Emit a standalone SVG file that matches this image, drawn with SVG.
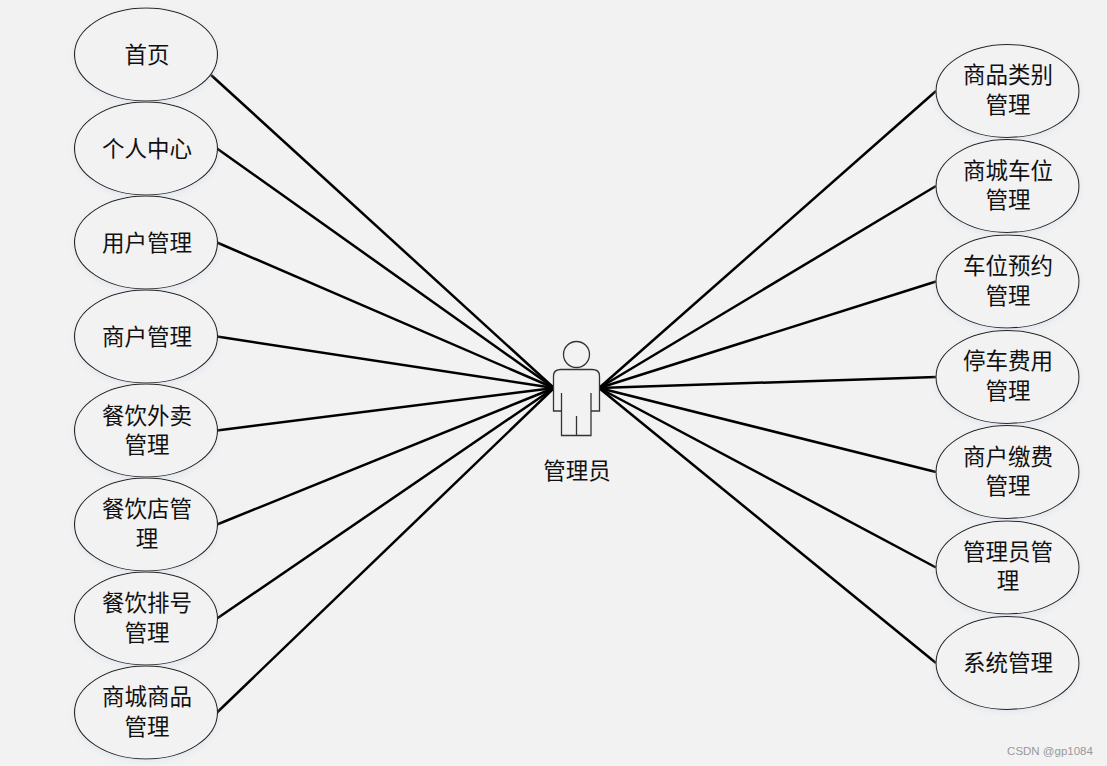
<svg xmlns="http://www.w3.org/2000/svg" width="1107" height="766" viewBox="0 0 1107 766">
<style>
.n ellipse{fill:#f2f2f3;stroke:#222;stroke-width:1.1}
text{font-family:"Noto Sans CJK SC","Noto Sans CJK JP",sans-serif;font-size:22.5px;fill:#111;text-anchor:middle}
#connectors line{stroke:#000;stroke-width:2.5}
#actor circle,#actor path{fill:#f2f2f3;stroke:#333;stroke-width:1.3}
</style>
<defs><filter id="s" x="-15%" y="-15%" width="130%" height="130%"><feDropShadow dx="0" dy="2" stdDeviation="3" flood-color="#c8d4e6" flood-opacity="0.4"/></filter></defs>
<rect width="1107" height="766" fill="#f2f2f2"/>
<g id="connectors">
<line x1="211" y1="75" x2="554" y2="388"/>
<line x1="217" y1="148.5" x2="554" y2="388"/>
<line x1="217" y1="242.5" x2="554" y2="388"/>
<line x1="217" y1="336.5" x2="554" y2="388"/>
<line x1="217" y1="430.5" x2="554" y2="388"/>
<line x1="217" y1="524.5" x2="554" y2="388"/>
<line x1="217" y1="618.5" x2="554" y2="388"/>
<line x1="217" y1="712.5" x2="554" y2="388"/>
<line x1="936" y1="91" x2="599" y2="388"/>
<line x1="936" y1="186" x2="599" y2="388"/>
<line x1="936" y1="281.5" x2="599" y2="388"/>
<line x1="936" y1="377" x2="599" y2="388"/>
<line x1="936" y1="472" x2="599" y2="388"/>
<line x1="936" y1="567.5" x2="599" y2="388"/>
<line x1="936" y1="663" x2="599" y2="388"/>
</g>
<g id="n1" class="n"><ellipse filter="url(#s)" cx="146" cy="54.5" rx="71.5" ry="46.5"/><text x="147" y="62.500">首页</text></g>
<g id="n2" class="n"><ellipse filter="url(#s)" cx="146" cy="148.5" rx="71.5" ry="46.500"/><text x="147" y="156.500">个人中心</text></g>
<g id="n3" class="n"><ellipse filter="url(#s)" cx="146" cy="242.5" rx="71.5" ry="46.5"/><text x="147" y="250.500">用户管理</text></g>
<g id="n4" class="n"><ellipse filter="url(#s)" cx="146" cy="336.5" rx="71.5" ry="46.5"/><text x="147" y="344.500">商户管理</text></g>
<g id="n5" class="n"><ellipse filter="url(#s)" cx="146" cy="430.5" rx="71.5" ry="46.5"/><text x="147" y="423.500">餐饮外卖</text><text x="147" y="452.500">管理</text></g>
<g id="n6" class="n"><ellipse filter="url(#s)" cx="146" cy="524.5" rx="71.5" ry="46.5"/><text x="147" y="516.500">餐饮店管</text><text x="147" y="546.500">理</text></g>
<g id="n7" class="n"><ellipse filter="url(#s)" cx="146" cy="618.5" rx="71.5" ry="46.5"/><text x="147" y="610.500">餐饮排号</text><text x="147" y="640.500">管理</text></g>
<g id="n8" class="n"><ellipse filter="url(#s)" cx="146" cy="712.5" rx="71.5" ry="46.5"/><text x="147" y="704.500">商城商品</text><text x="147" y="734.500">管理</text></g>
<g id="n9" class="n"><ellipse filter="url(#s)" cx="1007.5" cy="91" rx="71.5" ry="46.5"/><text x="1008" y="83">商品类别</text><text x="1008" y="113">管理</text></g>
<g id="n10" class="n"><ellipse filter="url(#s)" cx="1007.5" cy="186" rx="71.5" ry="46.5"/><text x="1008" y="179">商城车位</text><text x="1008" y="208">管理</text></g>
<g id="n11" class="n"><ellipse filter="url(#s)" cx="1007.5" cy="281.5" rx="71.5" ry="46.5"/><text x="1008" y="274">车位预约</text><text x="1008" y="304">管理</text></g>
<g id="n12" class="n"><ellipse filter="url(#s)" cx="1007.5" cy="377" rx="71.5" ry="46.5"/><text x="1008" y="369">停车费用</text><text x="1008" y="399">管理</text></g>
<g id="n13" class="n"><ellipse filter="url(#s)" cx="1007.5" cy="472" rx="71.5" ry="46.5"/><text x="1008" y="465">商户缴费</text><text x="1008" y="494">管理</text></g>
<g id="n14" class="n"><ellipse filter="url(#s)" cx="1007.5" cy="567.5" rx="71.5" ry="46.5"/><text x="1008" y="560">管理员管</text><text x="1008" y="589">理</text></g>
<g id="n15" class="n"><ellipse filter="url(#s)" cx="1007.5" cy="663" rx="71.5" ry="46.5"/><text x="1008" y="671">系统管理</text></g>
<g id="actor">
<circle cx="576.500" cy="354.500" r="13"/>
<path d="M561.500 393V435.500H591V393M591 411H599.500V376Q599.500 369.500 592 369.500H561Q553.500 369.500 553.500 376V411H561.500M576.500 416V435.500"/>
<text x="577" y="479">管理员</text>
</g>
<text x="1050" y="754.500" style="font-family:'Liberation Sans',sans-serif;font-size:11.500px;fill:#999">CSDN @gp1084</text>
</svg>
